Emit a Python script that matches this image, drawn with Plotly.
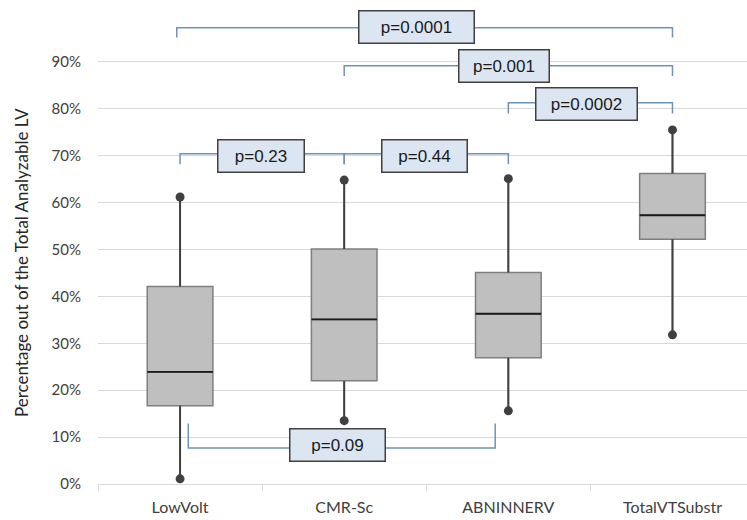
import plotly.graph_objects as go

# ---------------- data ----------------
categories = ["LowVolt", "CMR-Sc", "ABNINNERV", "TotalVTSubstr"]
lower = [1.1, 13.5, 15.6, 31.8]
q1 = [16.7, 22.0, 26.9, 52.2]
median = [23.9, 35.1, 36.3, 57.3]
q3 = [42.1, 50.1, 45.1, 66.2]
upper = [61.2, 64.8, 65.1, 75.5]

y_ticks = [0, 10, 20, 30, 40, 50, 60, 70, 80, 90]
y_ticktext = [f"{v}%" for v in y_ticks]

y_title = "Percentage out of the Total Analyzable LV"

# comparisons: (from category index, to category index, p-value text)
p_texts = ["p=0.0001", "p=0.001", "p=0.0002", "p=0.23", "p=0.44", "p=0.09"]
p_from = [-0.02, 1, 2, 0, 1, 0.05]
p_to = [3, 3, 3, 1, 2, 1.92]

# ---------------- layout geometry (positions / styles) ----------------
bracket_line_y = [97.3, 89.2, 81.3, 70.4, 70.4, 7.7]
bracket_tick_y = [95.2, 87.0, 79.0, 68.2, 68.2, 12.9]
label_x = [1.443, 1.975, 2.477, 0.496, 1.491, 0.962]
label_y = [97.5, 89.2, 81.0, 69.9, 69.9, 8.3]
label_w = [114, 89, 100, 85, 84, 94]

BOX_W = 0.4
box_fill = "#bfbfbf"
box_line = "#7f7f7f"
whisk_col = "#404040"
bracket_col = "#6f93b8"

fig = go.Figure()

idx = list(range(len(categories)))

fig.add_trace(go.Box(
    x=idx, q1=q1, median=median, q3=q3, lowerfence=lower, upperfence=upper,
    width=BOX_W, fillcolor=box_fill, line=dict(color=box_line, width=1.5),
    whiskerwidth=0, boxpoints=False, hoverinfo="skip", showlegend=False,
))

# whiskers
wx, wy = [], []
for i in idx:
    wx += [i, i, None, i, i, None]
    wy += [q3[i], upper[i], None, lower[i], q1[i], None]
fig.add_trace(go.Scatter(x=wx, y=wy, mode="lines",
                         line=dict(color=whisk_col, width=2),
                         hoverinfo="skip", showlegend=False))
# medians
mx, my = [], []
for i in idx:
    mx += [i - BOX_W / 2, i + BOX_W / 2, None]
    my += [median[i], median[i], None]
fig.add_trace(go.Scatter(x=mx, y=my, mode="lines",
                         line=dict(color="#1a1a1a", width=1.8),
                         hoverinfo="skip", showlegend=False))
# whisker end dots
fig.add_trace(go.Scatter(x=idx + idx, y=lower + upper, mode="markers",
                         marker=dict(color=whisk_col, size=9),
                         hoverinfo="skip", showlegend=False))

# brackets
bx, by = [], []
for a, b, ly, ty in zip(p_from, p_to, bracket_line_y, bracket_tick_y):
    bx += [a, a, b, b, None]
    by += [ty, ly, ly, ty, None]
fig.add_trace(go.Scatter(x=bx, y=by, mode="lines",
                         line=dict(color=bracket_col, width=1.5),
                         hoverinfo="skip", showlegend=False))

for t, x, y, w in zip(p_texts, label_x, label_y, label_w):
    fig.add_annotation(
        x=x, y=y, xref="x", yref="y", text=t, showarrow=False,
        font=dict(family="Liberation Sans, Arial", size=17, color="#1a1a1a"),
        bgcolor="#dce6f2", bordercolor="#404040", borderwidth=1.5,
        borderpad=0, width=w, height=31, align="center", valign="middle",
    )

# y-axis title as rotated text
fig.add_annotation(
    x=-0.1186, y=0.4566, xref="paper", yref="paper", text=y_title,
    showarrow=False, textangle=-90, xanchor="center", yanchor="middle",
    font=dict(family="Lato, Carlito, Calibri, sans-serif", size=17, color="#262626"),
)

fig.update_layout(
    width=747, height=520,
    margin=dict(l=98, r=0, t=0, b=36),
    paper_bgcolor="white", plot_bgcolor="white",
    showlegend=False,
    font=dict(family="Lato, Carlito, Calibri, sans-serif", size=15, color="#404040"),
    xaxis=dict(
        range=[-0.5, 3.454], tickmode="array", tickvals=idx, ticktext=categories,
        showgrid=False, zeroline=False, showline=True, linecolor="#d9d9d9", linewidth=1,
        ticks="", ticklabelstandoff=9,
        tickfont=dict(size=16, color="#404040"),
        minor=dict(tickmode="array", tickvals=[-0.5, 0.5, 1.5, 2.5],
                   ticks="outside", ticklen=6, tickcolor="#d9d9d9", tickwidth=1,
                   showgrid=False),
    ),
    yaxis=dict(
        range=[0, 484 / 4.69], tickmode="array", tickvals=y_ticks, ticktext=y_ticktext,
        showgrid=True, gridcolor="#d9d9d9", gridwidth=1, zeroline=False,
        showline=False, ticks="", ticklabelstandoff=16,
        tickfont=dict(size=15, color="#404040"),
    ),
)

fig.write_html("out.html")
